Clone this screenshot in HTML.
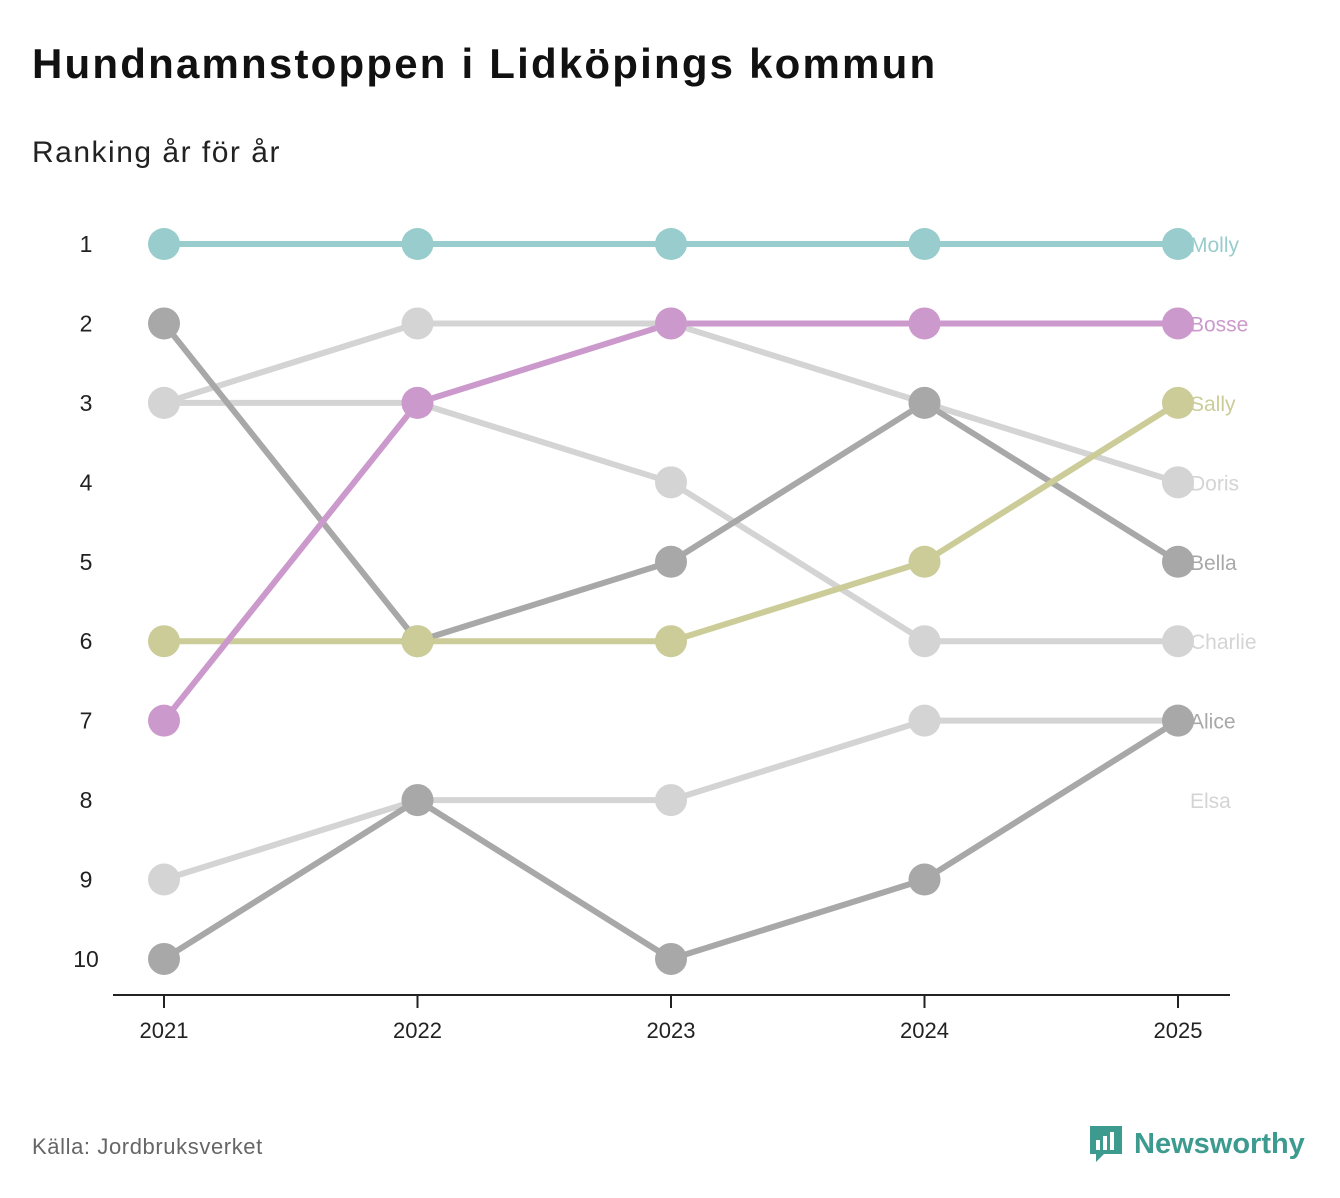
<!DOCTYPE html>
<html><head><meta charset="utf-8"><style>
body{margin:0;background:#fff;font-family:"Liberation Sans",sans-serif;}
#wrap{position:relative;width:1340px;height:1198px;overflow:hidden;}
h1{position:absolute;left:32px;top:40px;margin:0;font-size:42px;font-weight:bold;color:#111;letter-spacing:2.2px;}
.sub{position:absolute;left:32px;top:136px;font-size:30px;color:#222;letter-spacing:1.5px;}
.src{position:absolute;left:32px;top:1134px;font-size:22px;color:#666;letter-spacing:0.6px;}
.logo{position:absolute;left:1088px;top:1124px;font-size:29px;font-weight:bold;color:#3d9a8f;display:flex;align-items:center;gap:10px;}
svg{position:absolute;left:0;top:0;}
</style></head><body>
<div id="wrap">
<h1>Hundnamnstoppen i Lidköpings kommun</h1>
<div class="sub">Ranking år för år</div>
<div class="src">Källa: Jordbruksverket</div>
<div class="logo"><svg width="36" height="40" style="position:static" viewBox="0 0 36 40"><path d="M2 2h32v28H16l-8 8v-8H2z" fill="#3d9a8f"/><rect x="8" y="16" width="4" height="10" fill="#fff"/><rect x="15" y="12" width="4" height="14" fill="#fff"/><rect x="22" y="8" width="4" height="18" fill="#fff"/></svg><span>Newsworthy</span></div>
<svg id="chart" width="1340" height="1198"></svg>
</div>
<script>
const years=[2021,2022,2023,2024,2025];
const rankTicks=[1,2,3,4,5,6,7,8,9,10];
const names=["Molly","Bosse","Sally","Doris","Bella","Charlie","Alice","Elsa"];
const colors=["#99cccc","#cc99cc","#cccc99","#d4d4d4","#a8a8a8","#d4d4d4","#a8a8a8","#d4d4d4"];
const rMolly=[1,1,1,1,1];
const rBosse=[7,3,2,2,2];
const rSally=[6,6,6,5,3];
const rDoris=[3,2,2,3,4];
const rBella=[2,6,5,3,5];
const rCharlie=[3,3,4,6,6];
const rAlice=[10,8,10,9,7];
const rElsa=[9,8,8,7,7];
const labelRanks=[1,2,3,4,5,6,7,8];
const series=[rMolly,rBosse,rSally,rDoris,rBella,rCharlie,rAlice,rElsa];
const x=i=>164+i*253.5;
const y=r=>244+(r-1)*79.44;
const svg=document.getElementById('chart');
const NS='http://www.w3.org/2000/svg';
function mk(t,a){const e=document.createElementNS(NS,t);for(const k in a)e.setAttribute(k,a[k]);svg.appendChild(e);return e;}
let ax=mk('line',{x1:113,x2:1230,y1:995,y2:995,stroke:'#222','stroke-width':2});


years.forEach((yr,i)=>{
 let t=mk('line',{x1:x(i),x2:x(i),y1:995,y2:1008,stroke:'#222','stroke-width':2});
 
 
 let l=mk('text',{x:x(i),y:1038,'text-anchor':'middle','font-size':22,fill:'#222','font-family':'Liberation Sans, sans-serif'});
 l.textContent=yr;
 
 
});
rankTicks.forEach(r=>{
 let l=mk('text',{x:86,y:y(r)+8,'text-anchor':'middle','font-size':23,fill:'#222','font-family':'Liberation Sans, sans-serif'});
 l.textContent=r;
 
 
});
const order=[3,5,7,4,6,2,1,0];
order.forEach(s=>{
 const d=series[s].map((r,i)=>(i?'L':'M')+x(i)+' '+y(r)).join(' ');
 let p=mk('path',{d:d,fill:'none',stroke:colors[s],'stroke-width':6});
 
 
});
order.forEach(s=>{
 series[s].forEach((r,i)=>{
  let c=mk('circle',{cx:x(i),cy:y(r),r:16,fill:colors[s]});
  
  
 });
});
names.forEach((n,s)=>{
 let l=mk('text',{x:1190,y:y(labelRanks[s])+8,'font-size':21,fill:colors[s],'font-family':'Liberation Sans, sans-serif'});
 l.textContent=n;
 
 
});
</script>
</body></html>
